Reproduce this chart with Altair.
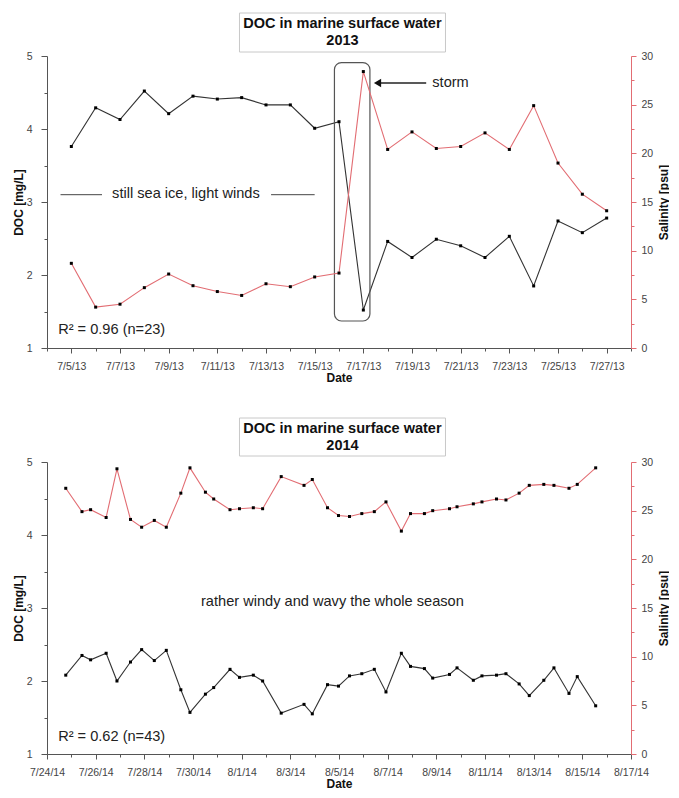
import altair as alt
import pandas as pd

FONT = "Liberation Sans"
RED = "#e26d73"
DARK = "#333333"

# ---------------- 2013 ----------------
dates_2013 = [
    "2013-07-05T00:00:00Z", "2013-07-06T00:00:00Z", "2013-07-07T00:00:00Z", "2013-07-08T00:00:00Z",
    "2013-07-09T00:00:00Z", "2013-07-10T00:00:00Z", "2013-07-11T00:00:00Z", "2013-07-12T00:00:00Z",
    "2013-07-13T00:00:00Z", "2013-07-14T00:00:00Z", "2013-07-15T00:00:00Z", "2013-07-16T00:00:00Z",
    "2013-07-17T00:00:00Z", "2013-07-18T00:00:00Z", "2013-07-19T00:00:00Z", "2013-07-20T00:00:00Z",
    "2013-07-21T00:00:00Z", "2013-07-22T00:00:00Z", "2013-07-23T00:00:00Z", "2013-07-24T00:00:00Z",
    "2013-07-25T00:00:00Z", "2013-07-26T00:00:00Z", "2013-07-27T00:00:00Z",
]
doc_2013 = [3.76, 4.29, 4.13, 4.52, 4.21, 4.45, 4.41, 4.43, 4.33, 4.33, 4.01, 4.10,
            1.52, 2.46, 2.24, 2.49, 2.40, 2.24, 2.53, 1.85, 2.74, 2.58, 2.78]
sal_2013 = [8.7, 4.2, 4.5, 6.2, 7.6, 6.4, 5.8, 5.4, 6.6, 6.3, 7.3, 7.7,
            28.4, 20.4, 22.2, 20.5, 20.7, 22.1, 20.4, 24.9, 19.0, 15.8, 14.1]

# ---------------- 2014 ----------------
dates_2014 = [
    "2014-07-24T18:30:00Z", "2014-07-25T10:30:00Z", "2014-07-25T19:00:00Z", "2014-07-26T10:20:00Z",
    "2014-07-26T21:00:00Z", "2014-07-27T10:20:00Z", "2014-07-27T21:20:00Z", "2014-07-28T09:50:00Z",
    "2014-07-28T21:40:00Z", "2014-07-29T12:00:00Z", "2014-07-29T21:00:00Z", "2014-07-30T12:15:00Z",
    "2014-07-30T20:25:00Z", "2014-07-31T12:30:00Z", "2014-07-31T21:50:00Z", "2014-08-01T11:30:00Z",
    "2014-08-01T20:40:00Z", "2014-08-02T15:00:00Z", "2014-08-03T13:30:00Z", "2014-08-03T21:40:00Z",
    "2014-08-04T12:40:00Z", "2014-08-04T23:30:00Z", "2014-08-05T10:20:00Z", "2014-08-05T22:30:00Z",
    "2014-08-06T10:50:00Z", "2014-08-06T22:20:00Z", "2014-08-07T13:30:00Z", "2014-08-07T22:30:00Z",
    "2014-08-08T12:15:00Z", "2014-08-08T20:25:00Z", "2014-08-09T13:00:00Z", "2014-08-09T20:25:00Z",
    "2014-08-10T12:30:00Z", "2014-08-10T21:00:00Z", "2014-08-11T11:20:00Z", "2014-08-11T20:40:00Z",
    "2014-08-12T09:40:00Z", "2014-08-12T19:40:00Z", "2014-08-13T10:00:00Z", "2014-08-13T20:00:00Z",
    "2014-08-14T10:50:00Z", "2014-08-14T19:00:00Z", "2014-08-15T13:10:00Z",
]
doc_2014 = [2.08, 2.35, 2.29, 2.38, 2.00, 2.26, 2.43, 2.28, 2.42, 1.88, 1.57, 1.82,
            1.91, 2.16, 2.05, 2.08, 2.00, 1.56, 1.68, 1.55, 1.95, 1.93, 2.07, 2.10,
            2.16, 1.85, 2.38, 2.20, 2.17, 2.04, 2.09, 2.18, 2.01, 2.07, 2.08, 2.10,
            1.96, 1.80, 2.01, 2.18, 1.83, 2.06, 1.66]
sal_2014 = [27.3, 24.9, 25.1, 24.3, 29.3, 24.1, 23.3, 24.0, 23.3, 26.8, 29.4, 26.9,
            26.2, 25.1, 25.2, 25.3, 25.2, 28.5, 27.6, 28.2, 25.3, 24.5, 24.4, 24.7,
            24.9, 25.9, 22.9, 24.7, 24.7, 25.0, 25.2, 25.4, 25.7, 25.9, 26.2, 26.1,
            26.8, 27.6, 27.7, 27.6, 27.3, 27.7, 29.4]

doc_ticks = [1, 1.5, 2, 2.5, 3, 3.5, 4, 4.5, 5]
sal_ticks = [0, 2.5, 5, 7.5, 10, 12.5, 15, 17.5, 20, 22.5, 25, 27.5, 30]

W, H = 584, 292
TXT = 14.6


def ms(s):
    return int(pd.Timestamp(s).value // 10**6)


def panel(dates, doc, sal, start, end, parity, title_year, texts, rules, boxes, arrows, box_y):
    t0 = ms(start)
    t1 = ms(end)
    day_ticks = list(range(t0, t1 + 1, 86400000))
    df = pd.DataFrame({"date": dates, "doc": doc, "sal": sal})

    major = f"round((datum.value - {t0}) / 86400000) % 2 == {parity}"
    xaxis = alt.Axis(
        values=day_ticks,
        labelExpr=f"{major} ? utcFormat(datum.value, '%-m/%-d/%y') : ''",
        tickSize={"condition": {"test": major, "value": 5}, "value": 3},
        labelPadding=8,
        titleY=29,
        titleBaseline="middle",
        labelFlush=False,
        labelOverlap=False,
    )
    xenc = alt.X("date:T", scale=alt.Scale(type="utc", domain=[t0, t1], nice=False),
                 axis=xaxis, title="Date")

    left_axis = alt.Axis(
        values=doc_ticks,
        labelExpr="datum.value % 1 == 0 ? format(datum.value, 'd') : ''",
        tickSize={"condition": {"test": "datum.value % 1 == 0", "value": 6}, "value": 3},
        labelPadding=9,
        titleX=-29,
        titleBaseline="middle",
    )
    right_axis = alt.Axis(
        orient="right",
        values=sal_ticks,
        labelExpr="datum.value % 5 == 0 ? format(datum.value, 'd') : ''",
        tickSize={"condition": {"test": "datum.value % 5 == 0", "value": 5}, "value": 3},
        domainColor=RED,
        tickColor=RED,
        labelPadding=5,
        titleX=32,
        titleAngle=270,
        titleBaseline="middle",
    )

    ydoc = alt.Y("doc:Q", scale=alt.Scale(domain=[1, 5], nice=False, zero=False),
                 axis=left_axis, title="DOC [mg/L]")
    ysal = alt.Y("sal:Q", scale=alt.Scale(domain=[0, 30], nice=False, zero=False),
                 axis=right_axis, title="Salinity [psu]")

    base = alt.Chart(df).encode(x=xenc)
    doc_line = base.mark_line(color=DARK, strokeWidth=1.1).encode(y=ydoc)
    doc_pts = base.mark_point(filled=True, shape="square", size=9, color="#000", opacity=1).encode(y=ydoc)

    layers = [doc_line, doc_pts]

    if texts:
        tdf = pd.DataFrame(texts, columns=["date", "doc", "label", "align"])
        for al in tdf["align"].unique():
            sub = tdf[tdf["align"] == al]
            layers.append(
                alt.Chart(sub).mark_text(align=al, baseline="middle", font=FONT, fontSize=TXT, color="#222")
                .encode(x=xenc, y=ydoc, text="label:N")
            )
    if rules:
        rdf = pd.DataFrame(rules, columns=["date", "date2", "doc"])
        layers.append(
            alt.Chart(rdf).mark_rule(color="#444", strokeWidth=1)
            .encode(x=xenc, x2="date2", y=ydoc)
        )
    if boxes:
        bdf = pd.DataFrame(boxes, columns=["date", "date2", "doc", "doc2"])
        layers.append(
            alt.Chart(bdf).mark_rect(fill="transparent", stroke="#555", strokeWidth=1.2, cornerRadius=7)
            .encode(x=xenc, x2="date2", y=ydoc, y2="doc2")
        )
    if arrows:
        adf = pd.DataFrame(arrows, columns=["date", "date2", "doc"])
        layers.append(
            alt.Chart(adf).mark_rule(color="#222", strokeWidth=1.3)
            .encode(x=xenc, x2="date2", y=ydoc)
        )
        layers.append(
            alt.Chart(adf).mark_point(shape="triangle-left", filled=True, size=70, color="#111", opacity=1)
            .encode(x=xenc, y=ydoc)
        )

    one = pd.DataFrame({"k": [0]})
    y_top, y_bot = box_y
    cx = 298 * W / 589
    title_box = alt.Chart(one).mark_rect(fill="white", stroke="#c8c8c8", strokeWidth=1).encode(
        x=alt.value(cx - 103), x2=alt.value(cx + 103), y=alt.value(y_top), y2=alt.value(y_bot))
    layers.append(title_box)
    for i, line in enumerate(["DOC in marine surface water", title_year]):
        layers.append(
            alt.Chart(one).mark_text(
                text=line, font=FONT, fontWeight="bold", fontSize=14.5,
                align="center", baseline="middle", color="#111"
            ).encode(x=alt.value(cx), y=alt.value(y_top + 11 + 17 * i))
        )

    doc_group = alt.layer(*layers)

    sal_line = base.mark_line(color=RED, strokeWidth=1.1).encode(y=ysal)
    sal_pts = base.mark_point(filled=True, shape="square", size=9, color="#000", opacity=1).encode(y=ysal)
    sal_group = alt.layer(sal_line, sal_pts)

    return alt.layer(doc_group, sal_group).resolve_scale(y="independent").properties(width=W, height=H)


top = panel(
    dates_2013, doc_2013, sal_2013,
    "2013-07-04T00:00:00Z", "2013-07-28T00:00:00Z", 1, "2013",
    texts=[
        ["2013-07-09T17:00:00Z", 3.11, "still sea ice, light winds", "center"],
        ["2013-07-19T20:00:00Z", 4.63, "storm", "left"],
        ["2013-07-04T11:00:00Z", 1.24, "R² = 0.96 (n=23)", "left"],
    ],
    rules=[
        ["2013-07-04T13:20:00Z", "2013-07-06T06:15:00Z", 3.10],
        ["2013-07-13T05:00:00Z", "2013-07-15T00:00:00Z", 3.10],
    ],
    boxes=[["2013-07-15T19:30:00Z", "2013-07-17T06:30:00Z", 4.91, 1.37]],
    arrows=[["2013-07-17T14:00:00Z", "2013-07-19T14:00:00Z", 4.63]],
    box_y=(-43, -4),
)

bottom = panel(
    dates_2014, doc_2014, sal_2014,
    "2014-07-24T00:00:00Z", "2014-08-17T00:00:00Z", 0, "2014",
    texts=[
        ["2014-08-04T17:30:00Z", 3.08, "rather windy and wavy the whole season", "center"],
        ["2014-07-24T11:00:00Z", 1.23, "R² = 0.62 (n=43)", "left"],
    ],
    rules=[],
    boxes=[],
    arrows=[],
    box_y=(-44, -6),
)

chart = alt.vconcat(top, bottom, spacing=34).properties(
    padding={"left": 4, "top": 4, "right": 0, "bottom": 0}
).configure_view(strokeWidth=0).configure_axis(
    grid=False,
    domainColor="#555",
    tickColor="#555",
    labelColor="#444",
    labelFont=FONT,
    labelFontSize=10.5,
    titleFont=FONT,
    titleFontSize=12,
    titleFontWeight="bold",
    titleColor="#111",
)

chart.save("out.html", embed_options={"renderer": "svg", "actions": False})
